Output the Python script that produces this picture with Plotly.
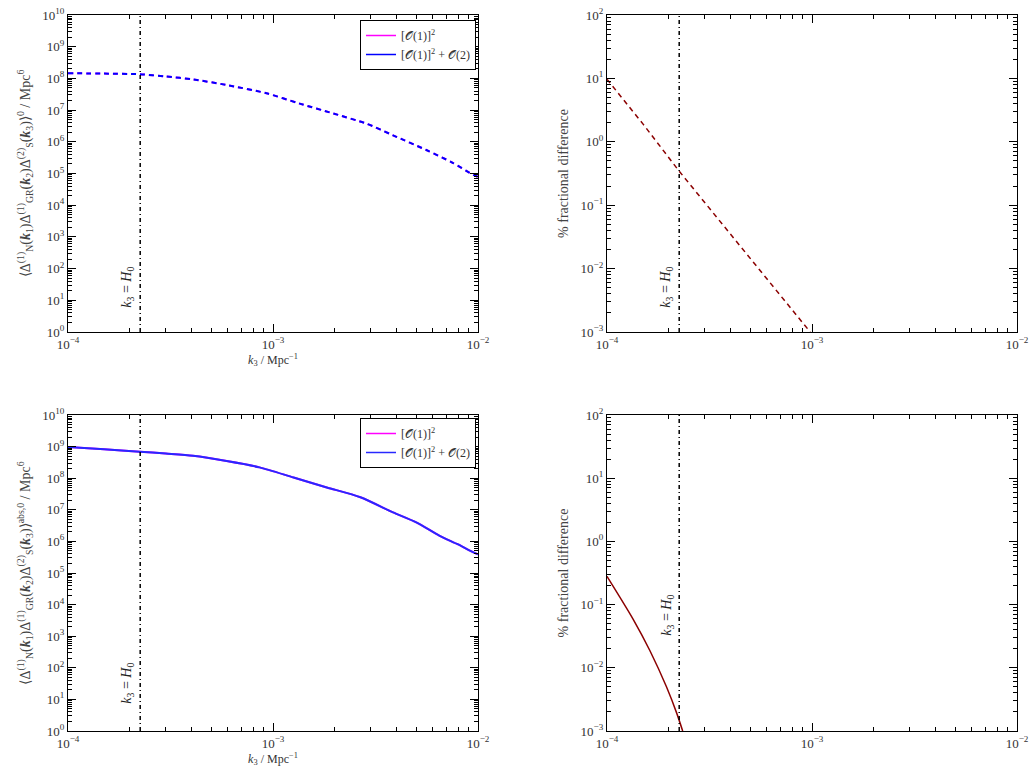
import numpy as np
import plotly.graph_objects as go

# ---------------- data ----------------
K_H0 = 2.25e-4  # k3 = H0 marker, Mpc^-1

# top-left: <...>^0 bispectrum (dashed)
k_top = [1.0e-4, 1.5e-4, 2.24e-4, 3.0e-4, 4.07e-4, 5.94e-4, 9.3e-4, 1.35e-3,
         1.96e-3, 2.87e-3, 3.85e-3, 5.6e-3, 7.5e-3, 9.5e-3, 1.0e-2]
b_top = [1.45e8, 1.42e8, 1.35e8, 1.15e8, 9.3e7, 6.2e7, 3.4e7, 1.6e7,
         7.9e6, 3.7e6, 1.6e6, 5.5e5, 2.2e5, 9.0e4, 7.8e4]

# bottom-left: <...>^{abs,0} bispectrum (solid)
k_bot = [1.0e-4, 1.5e-4, 2.24e-4, 3.0e-4, 4.07e-4, 5.94e-4, 8.6e-4, 1.26e-3,
         1.83e-3, 2.67e-3, 3.85e-3, 5.0e-3, 6.5e-3, 8.0e-3, 9.5e-3, 1.0e-2]
b_bot = [9.8e8, 8.2e8, 6.9e8, 6.0e8, 5.1e8, 3.5e8, 2.2e8, 1.05e8,
         5.1e7, 2.5e7, 8.3e6, 4.0e6, 1.5e6, 8.0e5, 4.5e5, 3.9e5]

# top-right: % fractional difference (dashed)
k_dtop = [1.0e-4, 1.5e-4, 2.24e-4, 3.2e-4, 5.0e-4, 7.0e-4, 9.8e-4]
d_top = [9.7, 1.9, 0.35, 0.085, 0.0145, 0.0038, 1.0e-3]

# bottom-right: % fractional difference (solid)
k_dbot = [1.0e-4, 1.34e-4, 1.62e-4, 1.95e-4, 2.19e-4, 2.34e-4]
d_bot = [0.28, 0.059, 0.0186, 0.005, 0.0019, 1.0e-3]

# tick labels
x_exps = [-4, -3, -2]
y_exps_bisp = list(range(0, 11))
y_exps_diff = [-3, -2, -1, 0, 1, 2]

LEG1 = "[𝒪(1)]<sup>2</sup>"
LEG2 = "[𝒪(1)]<sup>2</sup> + 𝒪(2)"

FONT = "Liberation Serif"
MAGENTA = "#ff00ff"
BLUE = "#0000ff"
BLUE2 = "#2828ff"
DRED = "#8b0000"


def pow_labels(exps):
    return [f"10<sup>{str(e).replace('-', '−')}</sup>" for e in exps]


SPL = dict(shape="spline", smoothing=0.7)

fig = go.Figure()

# top-left
fig.add_trace(go.Scatter(x=k_top, y=b_top, mode="lines", xaxis="x", yaxis="y",
                         line=dict(color=MAGENTA, width=2, dash="5px,4px", **SPL), showlegend=False))
fig.add_trace(go.Scatter(x=k_top, y=b_top, mode="lines", xaxis="x", yaxis="y",
                         line=dict(color=BLUE, width=2, dash="5px,4px", **SPL), showlegend=False))
fig.add_trace(go.Scatter(x=[None], y=[None], mode="lines", xaxis="x", yaxis="y",
                         line=dict(color=MAGENTA, width=1.5), name=LEG1, legend="legend"))
fig.add_trace(go.Scatter(x=[None], y=[None], mode="lines", xaxis="x", yaxis="y",
                         line=dict(color=BLUE, width=1.5), name=LEG2, legend="legend"))

# top-right
fig.add_trace(go.Scatter(x=k_dtop, y=d_top, mode="lines", xaxis="x2", yaxis="y2",
                         line=dict(color=DRED, width=1.5, dash="5px,4px"), showlegend=False))

# bottom-left
fig.add_trace(go.Scatter(x=k_bot, y=b_bot, mode="lines", xaxis="x3", yaxis="y3",
                         line=dict(color=MAGENTA, width=2, **SPL), showlegend=False))
fig.add_trace(go.Scatter(x=k_bot, y=b_bot, mode="lines", xaxis="x3", yaxis="y3",
                         line=dict(color=BLUE2, width=2, **SPL), showlegend=False))
fig.add_trace(go.Scatter(x=[None], y=[None], mode="lines", xaxis="x3", yaxis="y3",
                         line=dict(color=MAGENTA, width=1.5), name=LEG1, legend="legend2"))
fig.add_trace(go.Scatter(x=[None], y=[None], mode="lines", xaxis="x3", yaxis="y3",
                         line=dict(color=BLUE2, width=1.5), name=LEG2, legend="legend2"))

# bottom-right
fig.add_trace(go.Scatter(x=k_dbot, y=d_bot, mode="lines", xaxis="x4", yaxis="y4",
                         line=dict(color=DRED, width=1.5, **SPL), showlegend=False))

LX = [68 / 1031, 478 / 1031]
RX = [607 / 1031, 1017 / 1031]
TY = [1 - 332 / 775, 1 - 15 / 775]
BY = [1 - 731 / 775, 1 - 415 / 775]

tickfont = dict(family=FONT, size=13, color="#333")


def common(exps):
    return dict(type="log", range=[exps[0], exps[-1]], dtick=1,
                tickmode="array", tickvals=[10.0 ** e for e in exps], ticktext=pow_labels(exps),
                showgrid=False, zeroline=False,
                ticks="inside", ticklen=8, tickwidth=1.2, tickcolor="#000000",
                mirror="allticks", showline=True, linecolor="#000000", linewidth=1.2,
                minor=dict(ticks="inside", ticklen=4, tickwidth=1, tickcolor="#000000",
                           dtick="D1", showgrid=False),
                tickfont=tickfont)


def xax(domain, anchor, title=None):
    d = common(x_exps)
    d.update(domain=domain, anchor=anchor)
    if title:
        d["title"] = dict(text=title, font=dict(family=FONT, size=12, color="#333"), standoff=2)
    return d


def yax(domain, anchor, exps, title):
    d = common(exps)
    d.update(domain=domain, anchor=anchor,
             title=dict(text=title, font=dict(family=FONT, size=14, color="#444"), standoff=8))
    return d


KLAB = "<i>k</i><sub>3</sub> / Mpc<sup>−1</sup>"
Y1 = ("⟨Δ<sup>(1)</sup><sub>N</sub>(<b><i>k</i></b><sub>1</sub>)Δ<sup>(1)</sup><sub>GR</sub>"
      "(<b><i>k</i></b><sub>2</sub>)Δ<sup>(2)</sup><sub>S</sub>(<b><i>k</i></b><sub>3</sub>)⟩<sup>0</sup> / Mpc<sup>6</sup>")
Y3 = ("⟨Δ<sup>(1)</sup><sub>N</sub>(<b><i>k</i></b><sub>1</sub>)Δ<sup>(1)</sup><sub>GR</sub>"
      "(<b><i>k</i></b><sub>2</sub>)Δ<sup>(2)</sup><sub>S</sub>(<b><i>k</i></b><sub>3</sub>)⟩<sup>abs,0</sup> / Mpc<sup>6</sup>")
YD = "% fractional difference"

legstyle = dict(bordercolor="black", borderwidth=1, bgcolor="white",
                font=dict(family=FONT, size=12, color="#333"),
                xanchor="right", yanchor="top", tracegroupgap=0)

fig.update_layout(
    width=1031, height=775, margin=dict(l=0, r=0, t=0, b=0, autoexpand=False),
    paper_bgcolor="white", plot_bgcolor="white",
    font=dict(family=FONT, size=12, color="#333"),
    xaxis=xax(LX, "y", KLAB), yaxis=yax(TY, "x", y_exps_bisp, Y1),
    xaxis2=xax(RX, "y2"), yaxis2=yax(TY, "x2", y_exps_diff, YD),
    xaxis3=xax(LX, "y3", KLAB), yaxis3=yax(BY, "x3", y_exps_bisp, Y3),
    xaxis4=xax(RX, "y4"), yaxis4=yax(BY, "x4", y_exps_diff, YD),
    legend=dict(x=476 / 1031, y=1 - 20 / 775, **legstyle),
    legend2=dict(x=476 / 1031, y=1 - 418 / 775, **legstyle),
)

# k3 = H0 vertical lines and labels
label_y = {"": 0.142, "2": 0.142, "3": 0.152, "4": 0.367}
for s in ["", "2", "3", "4"]:
    fig.add_shape(type="line", xref="x" + s, yref=f"y{s} domain",
                  x0=K_H0, x1=K_H0, y0=0, y1=1,
                  line=dict(color="black", width=1.5, dash="4px,3px,1px,3px"))
    fig.add_annotation(xref="x" + s, yref=f"y{s} domain", x=np.log10(K_H0), y=label_y[s],
                       text="<i>k</i><sub>3</sub> = <i>H</i><sub>0</sub>", textangle=-90,
                       showarrow=False, xanchor="right", yanchor="middle", xshift=-2,
                       font=dict(family=FONT, size=14, color="#222"))

fig.write_html("out.html", config={"displayModeBar": False},
               post_script="document.body.style.margin='0';document.body.style.overflow='hidden';")
